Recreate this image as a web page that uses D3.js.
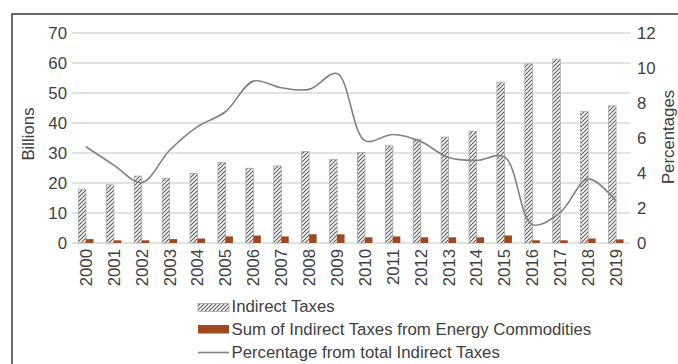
<!DOCTYPE html>
<html><head><meta charset="utf-8">
<script src="https://cdn.jsdelivr.net/npm/d3@7"></script>
<style>body{margin:0;background:#fff}svg{display:block}</style>
</head><body>
<svg id="c" width="678" height="364"></svg>
<script>
const years = ["2000","2001","2002","2003","2004","2005","2006","2007","2008","2009","2010","2011","2012","2013","2014","2015","2016","2017","2018","2019"];
const indirectTaxes = [17.9,19.4,22.3,21.6,23.2,26.9,24.9,25.7,30.5,27.9,30.2,32.4,34.6,35.3,37.2,53.6,59.7,61.3,43.8,45.7];
const energyTaxes = [1.3,0.9,0.9,1.3,1.5,2.2,2.5,2.2,2.9,2.9,1.9,2.2,1.9,1.9,1.9,2.5,0.9,0.9,1.5,1.2];
const percentage = [5.5,4.45,3.45,5.3,6.65,7.5,9.25,8.87,8.78,9.68,5.85,6.2,5.8,4.88,4.72,4.92,1.05,1.75,3.66,2.4];
const leftTicks = [0,10,20,30,40,50,60,70];
const rightTicks = [0,2,4,6,8,10,12];
const legendLabels = ["Indirect Taxes","Sum of Indirect Taxes from Energy Commodities","Percentage from total Indirect Taxes"];

const svg = d3.select("#c");
const font = "Liberation Sans, Arial, sans-serif";
const txt = "#404040";
const fs = 16.8;
const plot = {left:72, right:630, top:33, bottom:243};

const defs = svg.append("defs");
const pat = defs.append("pattern").attr("id","hatch").attr("patternUnits","userSpaceOnUse")
  .attr("width",4).attr("height",4);
pat.append("rect").attr("width",4).attr("height",4).attr("fill","#fff");
pat.append("path").attr("d","M-1,1 l2,-2 M0,4 l4,-4 M3,5 l2,-2").attr("stroke","#5e5e5e").attr("stroke-width",1.2);

// frame
svg.append("rect").attr("x",12).attr("y",14).attr("width",700).attr("height",400)
  .attr("fill","none").attr("stroke","#3a3a3a").attr("stroke-width",1.5);

const x = d3.scaleBand().domain(years).range([plot.left, plot.right]);
const yL = d3.scaleLinear().domain([0,70]).range([plot.bottom, plot.top]);
const yR = d3.scaleLinear().domain([0,12]).range([plot.bottom, plot.top]);

// gridlines
svg.append("g").selectAll("line").data(leftTicks).join("line")
  .attr("x1",plot.left).attr("x2",plot.right)
  .attr("y1",d=>yL(d)).attr("y2",d=>yL(d))
  .attr("stroke","#d9d9d9").attr("stroke-width",1.5);

// left axis
const gl = svg.append("g").attr("transform",`translate(${plot.left},0)`)
  .call(d3.axisLeft(yL).tickValues(leftTicks).tickSize(0).tickPadding(5));
gl.select(".domain").remove();
gl.selectAll("text").attr("font-family",font).attr("font-size",fs).attr("fill",txt);

// right axis
const gr = svg.append("g").attr("transform",`translate(${plot.right},0)`)
  .call(d3.axisRight(yR).tickValues(rightTicks).tickSize(0).tickPadding(7));
gr.select(".domain").remove();
gr.selectAll("text").attr("font-family",font).attr("font-size",fs).attr("fill",txt);

// bottom axis
const gb = svg.append("g").attr("transform",`translate(0,${plot.bottom})`)
  .call(d3.axisBottom(x).tickSize(0).tickPadding(0));
gb.select(".domain").remove();
gb.selectAll("text").attr("font-family",font).attr("font-size",fs).attr("fill",txt)
  .attr("text-anchor","end").attr("dy","0.35em")
  .attr("transform","translate(0,6) rotate(-90)").attr("x",0).attr("y",0);

// bars
const bw = 7.5;
svg.append("g").selectAll("rect").data(indirectTaxes).join("rect")
  .attr("x",(d,i)=>x(years[i])+x.bandwidth()/2-bw)
  .attr("y",d=>yL(d)).attr("width",bw).attr("height",d=>yL(0)-yL(d))
  .attr("fill","url(#hatch)").attr("stroke","#a6a6a6").attr("stroke-width",0.8);
svg.append("g").selectAll("rect").data(energyTaxes).join("rect")
  .attr("x",(d,i)=>x(years[i])+x.bandwidth()/2)
  .attr("y",d=>yL(d)).attr("width",bw).attr("height",d=>yL(0)-yL(d))
  .attr("fill","#a0491f");

// line
const line = d3.line().x((d,i)=>x(years[i])+x.bandwidth()/2).y(d=>yR(d))
  .curve(d3.curveCatmullRom.alpha(0.5));
svg.append("path").datum(percentage).attr("d",line)
  .attr("fill","none").attr("stroke","#808080").attr("stroke-width",1.6);

// axis titles
svg.append("text").attr("transform","translate(34,134) rotate(-90)")
  .attr("text-anchor","middle").attr("font-family",font).attr("font-size",fs).attr("fill",txt).text("Billions");
svg.append("text").attr("transform","translate(674,137) rotate(-90)")
  .attr("text-anchor","middle").attr("font-family",font).attr("font-size",fs).attr("fill",txt).text("Percentages");

// legend
const lg = svg.append("g");
const rows = [312,334.5,357.5];
lg.append("rect").attr("x",198).attr("y",303.5).attr("width",31).attr("height",8)
  .attr("fill","url(#hatch)").attr("stroke","#a6a6a6").attr("stroke-width",0.8);
lg.append("rect").attr("x",198).attr("y",325).attr("width",31).attr("height",8.5).attr("fill","#a0491f");
lg.append("line").attr("x1",198).attr("x2",229).attr("y1",352.5).attr("y2",352.5)
  .attr("stroke","#808080").attr("stroke-width",1.6);
lg.selectAll("text").data(legendLabels).join("text")
  .attr("x",231.5).attr("y",(d,i)=>rows[i])
  .attr("font-family",font).attr("font-size",fs).attr("fill",txt).text(d=>d);
</script>
</body></html>
